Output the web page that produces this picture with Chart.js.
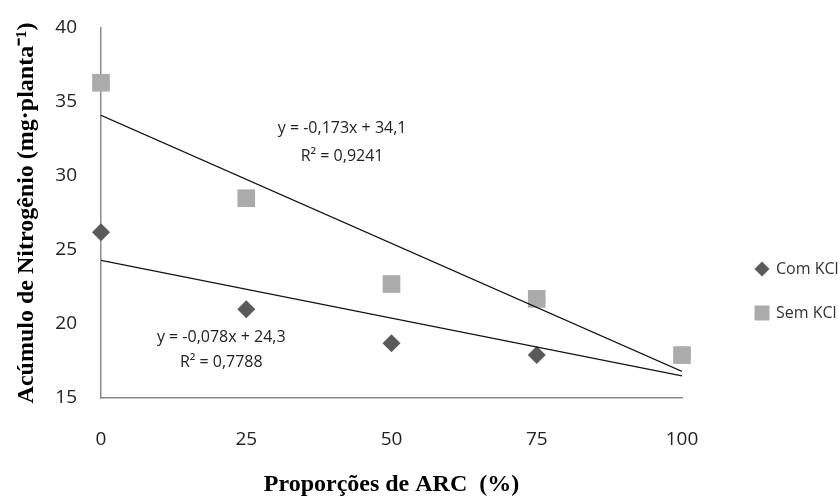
<!DOCTYPE html>
<html><head><meta charset="utf-8">
<script src="https://cdn.jsdelivr.net/npm/chart.js@4.4.1/dist/chart.umd.min.js"></script>
<style>html,body{margin:0;padding:0;background:#fff}#wrap{width:838px;height:497px}</style>
</head><body><div id="wrap"><canvas id="c" width="838" height="497"></canvas></div>
<script>
const xValues = [0, 25, 50, 75, 100];
const comKCl = [26.2, 21.0, 18.7, 17.9, 17.9];
const semKCl = [36.3, 28.5, 22.7, 21.7, 17.9];
const seriesNames = ['Com KCl', 'Sem KCl'];
const trendCom = [24.3, -0.078];
const trendSem = [34.1, -0.173];
const eqCom = ['y = -0,078x + 24,3', 'R² = 0,7788'];
const eqSem = ['y = -0,173x + 34,1', 'R² = 0,9241'];
const yTicks = [15, 20, 25, 30, 35, 40];
const xTitle = 'Proporções de ARC  (%)';
const yTitle = 'Acúmulo de Nitrogênio (mg·planta⁻¹)';

const tickFont = {family: '"Open Sans", Lato, sans-serif', size: 19};
const pts = arr => xValues.map((x, i) => ({x, y: arr[i]}));
const line = t => [{x: 0, y: t[0]}, {x: 100, y: t[0] + t[1] * 100}];

const annot = {
  id: 'annot',
  afterDatasetsDraw(chart) {
    const {ctx, scales: {x, y}} = chart;
    ctx.save();
    ctx.fillStyle = '#222';
    ctx.font = '16px "Open Sans", Lato, sans-serif';
    ctx.textAlign = 'center'; ctx.textBaseline = 'middle';
    const px1 = x.getPixelForValue(41.5);
    ctx.fillText(eqSem[0], px1, y.getPixelForValue(33.2));
    ctx.fillText(eqSem[1], px1, y.getPixelForValue(31.3));
    const px2 = x.getPixelForValue(20.7);
    ctx.fillText(eqCom[0], px2, y.getPixelForValue(19.1));
    ctx.fillText(eqCom[1], px2, y.getPixelForValue(17.4));
    // legend
    const ds = chart.data.datasets;
    const lx = 762, ly = [269, 313];
    [0, 1].forEach(i => {
      const d = ds[i];
      ctx.fillStyle = d.backgroundColor;
      ctx.beginPath();
      if (i === 0) {
        const r = 7.5;
        ctx.moveTo(lx, ly[i] - r); ctx.lineTo(lx + r, ly[i]); ctx.lineTo(lx, ly[i] + r); ctx.lineTo(lx - r, ly[i]); ctx.closePath();
      } else {
        ctx.rect(lx - 7.5, ly[i] - 7.5, 15, 15);
      }
      ctx.fill();
      ctx.fillStyle = '#333';
      ctx.textAlign = 'left';
      ctx.font = '16px "Open Sans", Lato, sans-serif';
      ctx.fillText(d.label, lx + 14, ly[i]);
    });
    ctx.restore();
  }
};

new Chart(document.getElementById('c'), {
  type: 'scatter',
  data: {
    datasets: [
      {label: seriesNames[0], data: pts(comKCl), pointStyle: 'rectRot', pointRadius: 9, pointHoverRadius: 9,
       backgroundColor: '#5a5a5a', borderColor: '#5a5a5a', borderWidth: 0, order: 2, clip: false},
      {label: seriesNames[1], data: pts(semKCl), pointStyle: 'rect', pointRadius: 12.5, pointHoverRadius: 12.5,
       backgroundColor: '#ababab', borderColor: '#ababab', borderWidth: 0, order: 1, clip: false},
      {label: 'tSem', data: line(trendSem), type: 'line', showLine: true, pointRadius: 0, borderColor: '#111', borderWidth: 1.3, fill: false, order: 0},
      {label: 'tCom', data: line(trendCom), type: 'line', showLine: true, pointRadius: 0, borderColor: '#111', borderWidth: 1.3, fill: false, order: 0}
    ]
  },
  options: {
    responsive: false, animation: false, devicePixelRatio: 1,
    layout: {padding: {left: 0, right: 156, top: 28, bottom: 0}},
    plugins: {legend: {display: false}, tooltip: {enabled: false}},
    scales: {
      x: {
        type: 'linear', min: 0, max: 100,
        grid: {display: false, drawTicks: false},
        border: {color: '#8c8c8c', width: 1.5},
        ticks: {stepSize: 25, font: tickFont, color: '#222', padding: 30},
        title: {display: true, text: xTitle, font: {family: 'Liberation Serif', size: 24, weight: 'bold', lineHeight: 1.0}, color: '#000', padding: {top: 0, bottom: 0}},
        afterFit(s) { s.height = 99; }
      },
      y: {
        min: 15, max: 40,
        grid: {display: false, drawTicks: false},
        border: {color: '#8c8c8c', width: 1.5},
        afterBuildTicks(s) { s.ticks = yTicks.map(v => ({value: v})); },
        ticks: {font: tickFont, color: '#222', padding: 24},
        title: {display: true, text: yTitle, font: {family: 'Liberation Serif', size: 24, weight: 'bold', lineHeight: 2.2}, color: '#000', padding: {top: 0, bottom: 0}},
        afterFit(s) { s.width = 101; s.paddingTop = 0; s.paddingBottom = 0; }
      }
    }
  },
  plugins: [annot]
});
</script></body></html>
